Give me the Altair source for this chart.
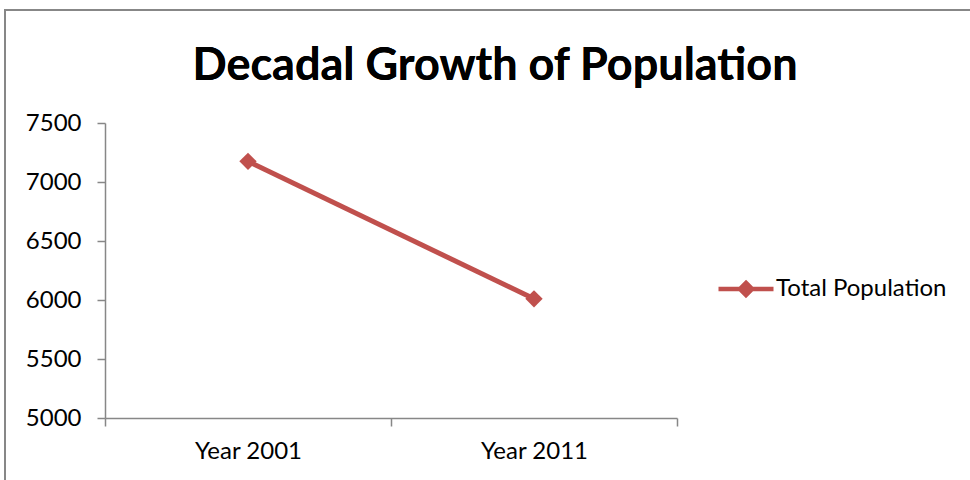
import altair as alt
import pandas as pd

TITLE = "Decadal Growth of Population"
categories = ["Year 2001", "Year 2011"]
values = [7175, 6010]
series = ["Total Population", "Total Population"]
y_ticks = [5000, 5500, 6000, 6500, 7000, 7500]

df = pd.DataFrame({"year": categories, "pop": values, "series": series})

RED = "#C0504D"
GRAY = "#878787"
FONT = "Lato"

base = alt.Chart(df)

x_enc = alt.X("year:N", title=None, sort=categories,
              scale=alt.Scale(type="band", paddingInner=0, paddingOuter=0),
              bandPosition=0.5,
              axis=alt.Axis(tickBand="extent", labelAngle=0, labelFontSize=24,
                            labelFont=FONT, labelColor="black", labelPadding=13,
                            domainColor=GRAY, tickColor=GRAY, domainWidth=1.5,
                            tickWidth=1.5, tickSize=8, grid=False))
y_enc = alt.Y("pop:Q", title=None,
              scale=alt.Scale(domain=[5000, 7500], nice=False, zero=False),
              axis=alt.Axis(values=y_ticks, format="d", labelFontSize=24, labelFont=FONT,
                            labelColor="black", labelPadding=16,
                            domainColor=GRAY, tickColor=GRAY, domainWidth=1.5,
                            tickWidth=1.5, tickSize=8, grid=False))

line = base.mark_line(color=RED, strokeWidth=5).encode(x=x_enc, y=y_enc)

legend_path = "M-1,0L1,0M0,-0.22L0.22,0L0,0.22L-0.22,0Z"
points = base.mark_point(shape="diamond", filled=True, size=300, opacity=1).encode(
    x=x_enc, y=y_enc,
    color=alt.Color("series:N", scale=alt.Scale(range=[RED]),
                    legend=alt.Legend(title=None, orient="none", legendX=611, legendY=136,
                                      symbolType=legend_path, symbolSize=3025,
                                      symbolStrokeColor=RED, symbolFillColor=RED,
                                      symbolStrokeWidth=4.5, symbolOpacity=1,
                                      labelFontSize=24, labelFont=FONT, labelLimit=400,
                                      labelColor="black", labelOffset=0)),
)

title = base.mark_text(font=FONT, fontSize=45, fontWeight="bold", color="black",
                       align="center", baseline="alphabetic").encode(
    x=alt.value(390), y=alt.value(-43), text=alt.value(TITLE)
)

border = base.mark_rect(fill=None, stroke=GRAY, strokeWidth=2).encode(
    x=alt.value(-100), x2=alt.value(900), y=alt.value(-113), y2=alt.value(400)
)

chart = alt.layer(border, line, points, title).properties(
    width=572, height=295,
    autosize=alt.AutoSizeParams(type="none"),
    padding={"left": 105, "top": 123, "right": 293, "bottom": 62},
).configure_view(stroke=None)

chart.save("out.html", embed_options={"renderer": "svg", "actions": False})
